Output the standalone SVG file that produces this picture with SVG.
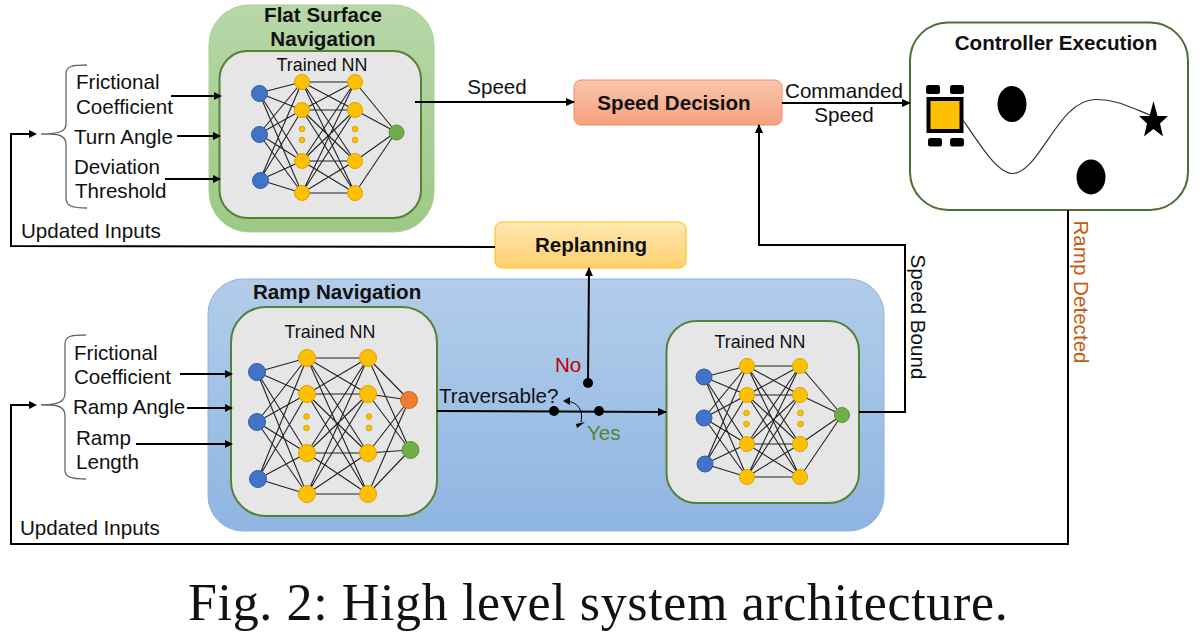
<svg xmlns="http://www.w3.org/2000/svg" width="1201" height="642" viewBox="0 0 1201 642">
<style>
text{font-family:"Liberation Sans",Arial,sans-serif;font-size:20.600px;fill:#111}
.b{font-weight:bold}
.m{text-anchor:middle}
.t{font-size:17.900px}
.inner{fill:#e6e6e6;stroke:#548235;stroke-width:2}
.e{fill:none;stroke:#222;stroke-width:1.1}
.in{fill:#4472c4;stroke:#2f5fb0;stroke-width:1}
.h{fill:#ffc000;stroke:#d9a400;stroke-width:1}
.g{fill:#70ad47;stroke:#5a9236;stroke-width:1}
.o{fill:#ed7d31;stroke:#c9651f;stroke-width:1}
.c{fill:none;stroke:#000;stroke-width:2}
.br{fill:none;stroke:#666;stroke-width:1.3}
</style>
<defs>
<marker id="a" markerWidth="9" markerHeight="8" refX="8" refY="4" orient="auto" markerUnits="userSpaceOnUse"><path d="M0 0L9 4L0 8Z" fill="#000"/></marker>
<marker id="s" markerWidth="8" markerHeight="8" refX="6" refY="4" orient="auto" markerUnits="userSpaceOnUse"><path d="M0 0L8 4L0 8Z" fill="#000"/></marker>
<linearGradient id="gf" x1="0" y1="0" x2="0" y2="1"><stop offset="0" stop-color="#b7d7a8"/><stop offset="1" stop-color="#9dc985"/></linearGradient>
<linearGradient id="gb" x1="0" y1="0" x2="0" y2="1"><stop offset="0" stop-color="#b2cdea"/><stop offset="1" stop-color="#8fb5e2"/></linearGradient>
<linearGradient id="go" x1="0" y1="0" x2="0" y2="1"><stop offset="0" stop-color="#f9c5ae"/><stop offset="1" stop-color="#f6a27f"/></linearGradient>
<linearGradient id="gy" x1="0" y1="0" x2="0" y2="1"><stop offset="0" stop-color="#ffe8b0"/><stop offset="1" stop-color="#ffcf6e"/></linearGradient>
</defs>
<g id="flat-surface-navigation">
<rect x="209" y="5" width="225" height="227" rx="40" fill="url(#gf)" stroke="#a9d18e" stroke-width="1"/>
<text class="b m" x="323" y="22">Flat Surface</text>
<text class="b m" x="323" y="46">Navigation</text>
<rect class="inner" x="219.500" y="51" width="201.500" height="167" rx="28"/>
<text class="m t" x="322" y="71">Trained NN</text>
<path class="e" d="M259 93L302 82M259 93L302 110M259 93L302 161M259 93L302 193M259 134L302 82M259 134L302 110M259 134L302 161M259 134L302 193M260 180L302 82M260 180L302 110M260 180L302 161M260 180L302 193M302 82L355 82M302 82L355 110M302 82L355 161M302 82L355 193M302 110L355 82M302 110L355 110M302 110L355 161M302 110L355 193M302 161L355 82M302 161L355 110M302 161L355 161M302 161L355 193M302 193L355 82M302 193L355 110M302 193L355 161M302 193L355 193M355 82L396 132M355 110L396 132M355 161L396 132M355 193L396 132"/>
<circle class="in" cx="259.500" cy="93.500" r="8"/><circle class="in" cx="259.500" cy="134.500" r="8"/><circle class="in" cx="260.500" cy="180.500" r="8"/>
<circle class="h" cx="302" cy="82" r="7.500"/><circle class="h" cx="302" cy="110" r="7.500"/><circle class="h" cx="302" cy="161" r="7.500"/><circle class="h" cx="302" cy="193" r="7.500"/>
<circle class="h" cx="302" cy="129" r="2.800"/><circle class="h" cx="302" cy="140" r="2.800"/>
<circle class="h" cx="355" cy="82" r="7.500"/><circle class="h" cx="355" cy="110" r="7.500"/><circle class="h" cx="355" cy="161" r="7.500"/><circle class="h" cx="355" cy="193" r="7.500"/>
<circle class="h" cx="355" cy="129" r="2.800"/><circle class="h" cx="355" cy="140" r="2.800"/>
<circle class="g" cx="396.500" cy="132.500" r="7.500"/>
</g>
<g id="ramp-navigation">
<rect x="208" y="279" width="676" height="252" rx="35" fill="url(#gb)" stroke="#8db3de" stroke-width="1"/>
<text class="b" x="253" y="299">Ramp Navigation</text>
<rect class="inner" x="231" y="307" width="206" height="209" rx="35"/>
<text class="m t" x="330" y="338">Trained NN</text>
<path class="e" d="M257 372L307 358M257 372L307 394M257 372L307 453M257 372L307 494M257 422L307 358M257 422L307 394M257 422L307 453M257 422L307 494M258 479L307 358M258 479L307 394M258 479L307 453M258 479L307 494M307 358L368 358M307 358L368 394M307 358L368 453M307 358L368 494M307 394L368 358M307 394L368 394M307 394L368 453M307 394L368 494M307 453L368 358M307 453L368 394M307 453L368 453M307 453L368 494M307 494L368 358M307 494L368 394M307 494L368 453M307 494L368 494M368 358L409 400M368 394L409 400M368 453L409 400M368 494L409 400M368 358L410 450M368 394L410 450M368 453L410 450M368 494L410 450"/>
<circle class="in" cx="257" cy="372" r="8.500"/><circle class="in" cx="257" cy="422" r="8.500"/><circle class="in" cx="258" cy="479" r="8.500"/>
<circle class="h" cx="307" cy="358" r="8.500"/><circle class="h" cx="307" cy="394" r="8.500"/><circle class="h" cx="307" cy="453" r="8.500"/><circle class="h" cx="307" cy="494" r="8.500"/>
<circle class="h" cx="306.500" cy="416.500" r="2.800"/><circle class="h" cx="306.500" cy="428" r="2.800"/>
<circle class="h" cx="368" cy="358" r="8.500"/><circle class="h" cx="368" cy="394" r="8.500"/><circle class="h" cx="368" cy="453" r="8.500"/><circle class="h" cx="368" cy="494" r="8.500"/>
<circle class="h" cx="369" cy="416.500" r="2.800"/><circle class="h" cx="369" cy="428" r="2.800"/>
<circle class="o" cx="409" cy="400" r="8.500"/><circle class="g" cx="410.500" cy="450" r="8.500"/>
</g>
<g id="trained-nn-speed-bound">
<rect class="inner" x="666.500" y="321" width="192.500" height="182" rx="30"/>
<text class="m t" x="760" y="348">Trained NN</text>
<path class="e" d="M704 377L747 366M704 377L747 395M704 377L747 444M704 377L747 477M704 418L747 366M704 418L747 395M704 418L747 444M704 418L747 477M705 464L747 366M705 464L747 395M705 464L747 444M705 464L747 477M747 366L800 366M747 366L800 395M747 366L800 444M747 366L800 477M747 395L800 366M747 395L800 395M747 395L800 444M747 395L800 477M747 444L800 366M747 444L800 395M747 444L800 444M747 444L800 477M747 477L800 366M747 477L800 395M747 477L800 444M747 477L800 477M800 366L842 415M800 395L842 415M800 444L842 415M800 477L842 415"/>
<circle class="in" cx="704" cy="377" r="8"/><circle class="in" cx="704" cy="418" r="8"/><circle class="in" cx="705" cy="464" r="8"/>
<circle class="h" cx="747" cy="366" r="7.500"/><circle class="h" cx="747" cy="395" r="7.500"/><circle class="h" cx="747" cy="444" r="7.500"/><circle class="h" cx="747" cy="477" r="7.500"/>
<circle class="h" cx="746.500" cy="413" r="2.800"/><circle class="h" cx="746.500" cy="424" r="2.800"/>
<circle class="h" cx="800" cy="366" r="7.500"/><circle class="h" cx="800" cy="395" r="7.500"/><circle class="h" cx="800" cy="444" r="7.500"/><circle class="h" cx="800" cy="477" r="7.500"/>
<circle class="h" cx="800.500" cy="413" r="2.800"/><circle class="h" cx="800.500" cy="424" r="2.800"/>
<circle class="g" cx="842" cy="415" r="7.500"/>
</g>
<g id="speed-decision">
<rect x="574" y="80" width="208" height="45" rx="7" fill="url(#go)" stroke="#f08c5c" stroke-width="1"/>
<text class="b m" x="674" y="110">Speed Decision</text>
</g>
<g id="replanning">
<rect x="495" y="222" width="191" height="46" rx="7" fill="url(#gy)" stroke="#ffc000" stroke-width="1"/>
<text class="b m" x="591" y="252">Replanning</text>
</g>
<g id="controller-execution">
<rect x="910" y="22.500" width="278" height="187.500" rx="38" fill="#fff" stroke="#4e6e35" stroke-width="2"/>
<text class="b m" x="1056" y="50">Controller Execution</text>
<rect x="926" y="85" width="14" height="9" rx="2.500" fill="#000"/><rect x="950" y="85" width="14" height="9" rx="2.500" fill="#000"/>
<rect x="928" y="138" width="14" height="8.500" rx="2.500" fill="#000"/><rect x="950" y="138" width="14" height="8.500" rx="2.500" fill="#000"/>
<rect x="928.500" y="99" width="33" height="32" fill="#ffc000" stroke="#000" stroke-width="4"/>
<path d="M963 120C980 145 998 174 1013 173.500C1040 172 1058 100 1095 99.500C1115 99 1130 107 1150 115" fill="none" stroke="#333" stroke-width="1.200"/>
<ellipse cx="1012" cy="104" rx="14.500" ry="18" fill="#000"/>
<ellipse cx="1091" cy="177" rx="14.500" ry="17.500" fill="#000"/>
<path d="M1153.500 101L1157.500 116L1168 116L1160 123.500L1163 136.500L1153.500 129L1144 136.500L1147 123.500L1139 116L1149.500 116Z" fill="#000"/>
</g>
<g id="connectors">
<path class="c" marker-end="url(#a)" d="M415 102H574"/>
<path class="c" marker-end="url(#a)" d="M782 103H910"/>
<path class="c" marker-end="url(#s)" d="M171 96H220"/>
<path class="c" marker-end="url(#s)" d="M177 136H219"/>
<path class="c" marker-end="url(#s)" d="M165 179H219"/>
<path class="c" marker-end="url(#s)" d="M180 374H231"/>
<path class="c" marker-end="url(#s)" d="M187 408H231"/>
<path class="c" marker-end="url(#s)" d="M136 444H231"/>
<path class="c" marker-end="url(#s)" d="M495 247L11 246V134H35"/>
<path class="c" marker-end="url(#s)" d="M1068 210V544H11V405H35"/>
<path class="c" marker-end="url(#a)" d="M859 412H905V245H759V125"/>
<path class="c" marker-end="url(#a)" d="M437 411L666 412"/>
<path class="c" marker-end="url(#a)" d="M588 383L589 268"/>
<circle cx="554" cy="411" r="5" fill="#000"/><circle cx="599" cy="411" r="5" fill="#000"/><circle cx="588" cy="383" r="5" fill="#000"/>
<path d="M565 401C575 401 584 408 581 422" fill="none" stroke="#000" stroke-width="1"/>
<path d="M563 401L570 397V405ZM576 424L585 422L577 428Z" fill="#000"/>
<path class="br" d="M87 65C72 65 66 66 66 74V124C66 130 62 134 41 134M41 134H50C62 134 66 138 66 144V198C66 206 72 208 87 208"/>
<path class="br" d="M86 335C71 335 65 336 65 344V393C65 400 61 405 41 405H50C61 405 65 410 65 416V470C65 477 71 479 86 479"/>
</g>
<g id="labels">
<text x="76" y="89">Frictional</text><text x="76" y="114">Coefficient</text>
<text x="74" y="144">Turn Angle</text>
<text x="74" y="174">Deviation</text><text x="75" y="198">Threshold</text>
<text x="21" y="238">Updated Inputs</text>
<text class="m" x="497" y="94">Speed</text>
<text class="m" x="844" y="98">Commanded</text><text class="m" x="844" y="122">Speed</text>
<text x="74" y="360">Frictional</text><text x="74" y="384">Coefficient</text>
<text x="73" y="414">Ramp Angle</text>
<text x="76" y="445">Ramp</text><text x="76" y="469">Length</text>
<text x="20" y="535">Updated Inputs</text>
<text x="439" y="403">Traversable?</text>
<text x="555" y="372" style="fill:#c00000">No</text>
<text x="587" y="440" style="fill:#548235">Yes</text>
<text class="m" transform="translate(911,317) rotate(90)">Speed Bound</text>
<text class="m" transform="translate(1074,292) rotate(90)" style="fill:#c55a11">Ramp Detected</text>
<text x="188" y="620" style="font-family:'Liberation Serif','Times New Roman',serif;font-size:52px;letter-spacing:.630px;fill:#111">Fig. 2: High level system architecture.</text>
</g>
</svg>
